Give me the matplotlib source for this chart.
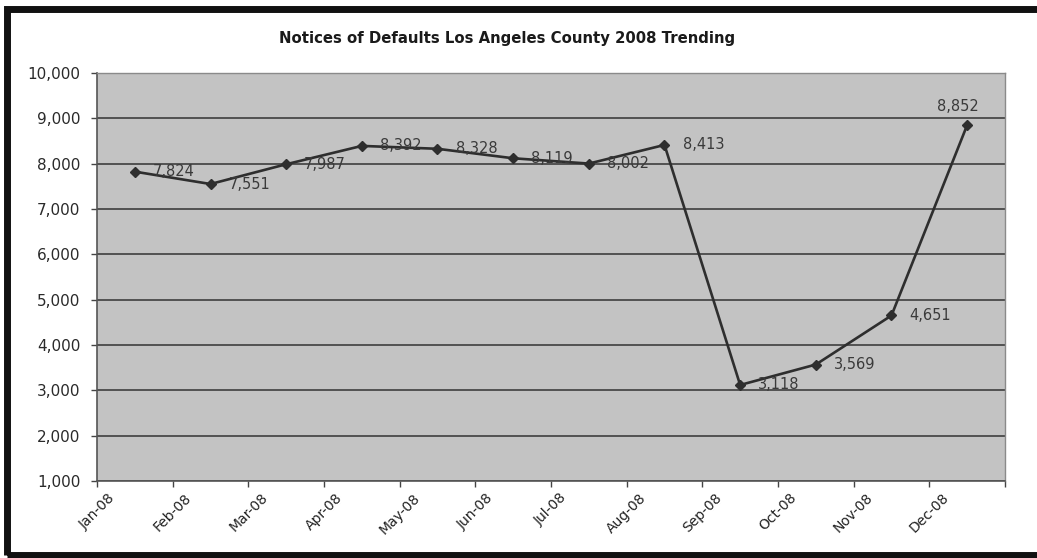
import matplotlib
matplotlib.use("Agg")
import matplotlib.pyplot as plt
from matplotlib.patches import Rectangle

months = ["Jan-08", "Feb-08", "Mar-08", "Apr-08", "May-08", "Jun-08",
          "Jul-08", "Aug-08", "Sep-08", "Oct-08", "Nov-08", "Dec-08"]
notices = [7824, 7551, 7987, 8392, 8328, 8119, 8002, 8413, 3118, 3569, 4651, 8852]
y_ticks = list(range(1000, 10001, 1000))
title = "Notices of Defaults Los Angeles County 2008 Trending"

W, H = 1037, 558
fig = plt.figure(figsize=(W / 100, H / 100), dpi=100)
fig.patch.set_facecolor("white")
ax = fig.add_axes([97 / W, 1 - 481 / H, (1005 - 97) / W, (481 - 73) / H])
ax.set_facecolor("#c3c3c3")

xs = [i + 0.5 for i in range(len(months))]
ax.plot(xs, notices, color="#2e2e2e", lw=1.9, marker="D", ms=5.5,
        mfc="#2e2e2e", mec="#2e2e2e", zorder=3)

for i, (x, v) in enumerate(zip(xs, notices)):
    if i == len(months) - 1:
        ax.annotate(f"{v:,}", (x, v), xytext=(-7, 13), textcoords="offset points",
                    ha="center", va="center", fontsize=10.5, color="#3a3a3a")
    else:
        ax.annotate(f"{v:,}", (x, v), xytext=(13, 0), textcoords="offset points",
                    ha="left", va="center", fontsize=10.5, color="#3a3a3a")

ax.set_xlim(0, 12)
ax.set_ylim(1000, 10000)
ax.set_yticks(y_ticks)
ax.set_yticklabels([f"{t:,}" for t in y_ticks], fontsize=11, color="#2a2a2a")
ax.set_xticks(range(13))
ax.set_xticklabels(months + [""], fontsize=10, color="#222222",
                   rotation=45, ha="center", va="top")
ax.tick_params(axis="both", direction="out", length=4, width=1, color="#444444")
ax.tick_params(axis="x", pad=3)
ax.tick_params(axis="y", pad=8)

ax.grid(axis="y", color="#333333", lw=1.1)
ax.set_axisbelow(True)
for s in ["left", "bottom"]:
    ax.spines[s].set_color("#555555")
    ax.spines[s].set_linewidth(1.2)
for s in ["top", "right"]:
    ax.spines[s].set_color("#8a8a8a")
    ax.spines[s].set_linewidth(1.0)

fig.text(507 / W, 1 - 38 / H, title, ha="center", va="center",
         fontsize=10.7, fontweight="bold", color="#1a1a1a")

fig.add_artist(Rectangle((6.5 / W, 3 / H), 1.1, (H - 3 - 8.5) / H,
                         transform=fig.transFigure, fill=False,
                         edgecolor="#111111", linewidth=5, clip_on=False))

fig.savefig("out.png", dpi=100)
